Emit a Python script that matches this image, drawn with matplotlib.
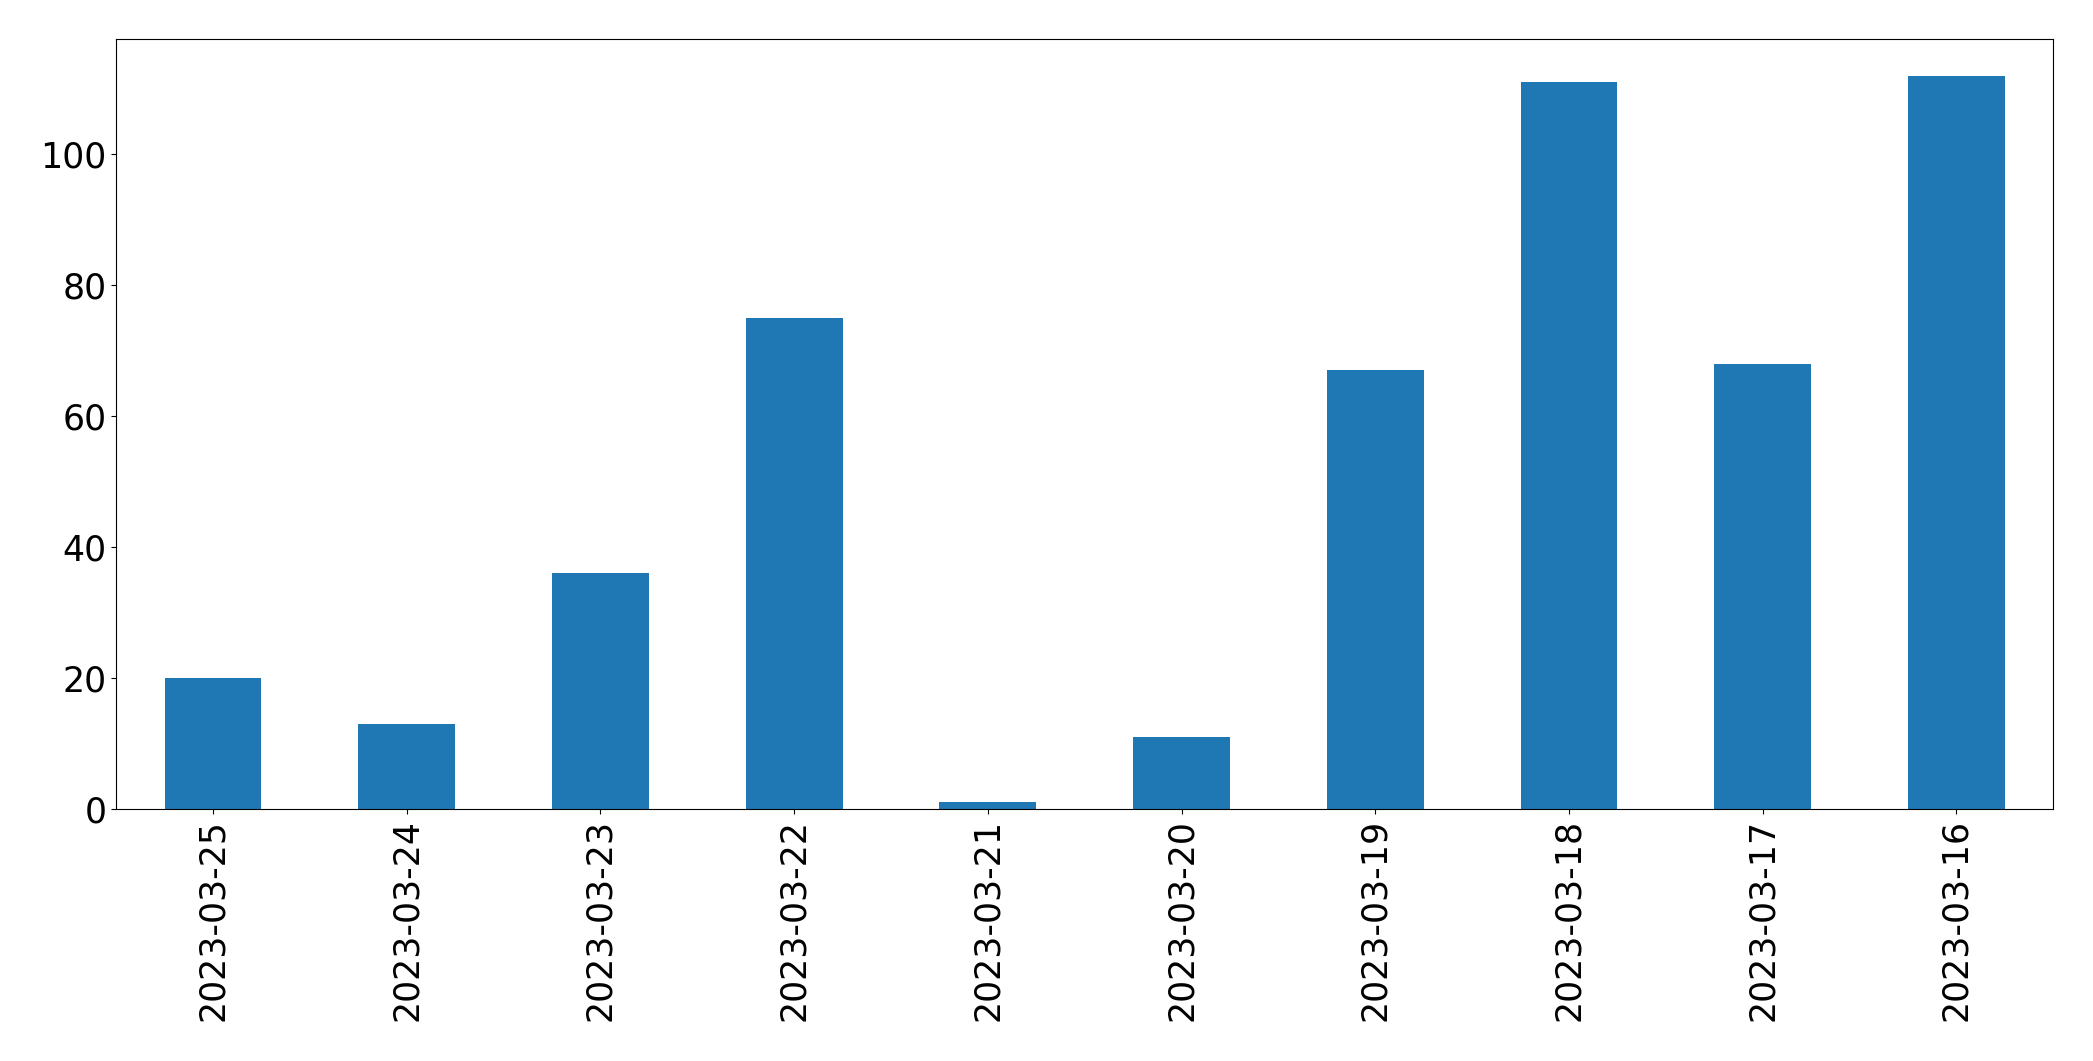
import matplotlib
matplotlib.use("Agg")
import matplotlib.pyplot as plt
import pandas as pd

dates = ["2023-03-25", "2023-03-24", "2023-03-23", "2023-03-22", "2023-03-21",
         "2023-03-20", "2023-03-19", "2023-03-18", "2023-03-17", "2023-03-16"]
counts = [20, 13, 36, 75, 1, 11, 67, 111, 68, 112]

series = pd.Series(counts, index=dates)

fig, ax = plt.subplots(figsize=(20.93, 10.61), dpi=100)
series.plot.bar(ax=ax, color="#1f77b4", width=0.5)
ax.tick_params(axis="both", labelsize=25)
ax.set_xticklabels(dates, rotation=90)

fig.subplots_adjust(left=0.0555, right=0.981, top=0.963, bottom=0.2375)
fig.savefig("out.png", dpi=100)
